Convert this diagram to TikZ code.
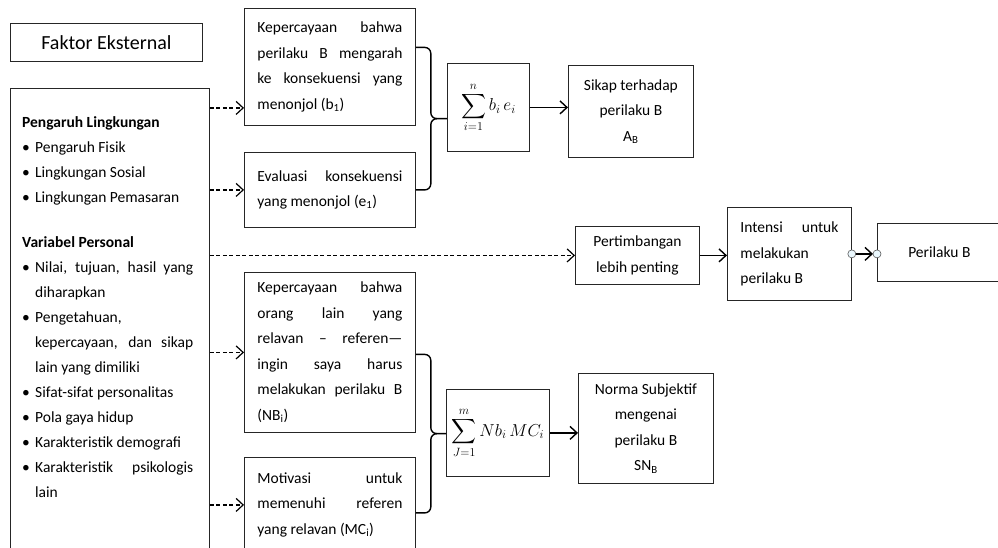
\documentclass[tikz,border=0pt]{standalone}
\usepackage{fontspec}
\setmainfont{Carlito}
\usepackage{amsmath}
\usetikzlibrary{positioning}
\usetikzlibrary{arrows.meta}
\usetikzlibrary{calc}

\setlength{\parindent}{0pt}
\hyphenpenalty=10000
\exhyphenpenalty=10000

\newcommand{\teks}{\fontsize{15.5}{25.5}\selectfont}
\newcommand{\butir}[1]{\par\hangindent=13pt\hangafter=1\noindent\makebox[13pt][l]{\textbullet}#1}

\tikzset{
  kotak/.style={draw=black!85, line width=0.8pt, inner xsep=13pt, inner ysep=4pt,
    font=\teks, anchor=north west},
  isi/.style={kotak, text width=145pt, align=justify, minimum height=#1},
  tengah/.style={kotak, align=center, inner xsep=2pt},
  panah/.style={-{Straight Barb[length=7pt,width=13pt]}, line width=1.4pt},
  putus/.style={panah, dash pattern=on 4pt off 2.5pt, line width=1.2pt},
  kurawal/.style={line width=1.4pt, rounded corners=6pt},
  titik/.style={draw=gray!70!black, fill=cyan!8, line width=0.6pt},
}

\begin{document}
\begin{tikzpicture}[x=1pt, y=-1pt]

  \useasboundingbox (0,0) rectangle (998,547);

  % Faktor eksternal (left column)
  \node[kotak, minimum width=192, minimum height=38,
        font=\fontsize{20}{24}\selectfont] (faktor) at (10,23) {Faktor Eksternal};
  \node[kotak, minimum width=199, minimum height=480] (kiri) at (10,88) {};
  \node[anchor=north west, inner sep=0pt, text width=171pt, align=justify,
        font=\fontsize{15.5}{25}\selectfont] (daftar) at (22,116) {%
    \textbf{Pengaruh Lingkungan}
    \butir{Pengaruh Fisik}
    \butir{Lingkungan Sosial}
    \butir{Lingkungan Pemasaran}
    \par\vspace{20pt}
    \noindent\textbf{Variabel Personal}
    \butir{Nilai, tujuan, hasil yang\linebreak diharapkan}
    \butir{Pengetahuan,\newline kepercayaan, dan sikap\linebreak lain yang dimiliki}
    \butir{Sifat-sifat personalitas}
    \butir{Pola gaya hidup}
    \butir{Karakteristik demografi}
    \butir{Karakteristik psikologis\linebreak lain}\par};

  % Keyakinan dan evaluasi
  \node[isi=117] (kep1) at (244,8)
    {Kepercayaan bahwa\linebreak perilaku B mengarah\linebreak ke konsekuensi yang\linebreak menonjol (b\textsubscript{1})};
  \node[isi=75] (eval) at (244,152)
    {Evaluasi konsekuensi\linebreak yang menonjol (e\textsubscript{1})};
  \node[isi=160] (kep2) at (244,272)
    {Kepercayaan bahwa\linebreak orang lain yang\linebreak relavan – referen—\linebreak ingin saya harus\linebreak melakukan perilaku B\linebreak (NB\textsubscript{i})};
  \node[isi=95] (mot) at (244,457)
    {Motivasi untuk\linebreak memenuhi referen\linebreak yang relavan (MC\textsubscript{i})};

  % Penjumlahan
  \node[kotak, minimum width=82, minimum height=88, inner xsep=2pt,
        font=\fontsize{17}{20}\selectfont] (jum1) at (447,63)
    {$\displaystyle\sum_{i=1}^{n} b_i\, e_i$};
  \node[kotak, minimum width=103, minimum height=87, inner xsep=2pt,
        font=\fontsize{17}{20}\selectfont] (jum2) at (446,389)
    {$\displaystyle\sum_{J=1}^{m} Nb_i\, MC_i$};

  % Sikap, norma, intensi, perilaku
  \node[tengah, minimum width=125, minimum height=92] (sikap) at (568,65)
    {Sikap terhadap\\ perilaku B\\ A\textsubscript{B}};
  \node[tengah, minimum width=135, minimum height=110] (norma) at (578,373)
    {Norma Subjektif\\ mengenai\\ perilaku B\\ SN\textsubscript{B}};
  \node[tengah, minimum width=124, minimum height=58] (pert) at (575,226)
    {Pertimbangan\\ lebih penting};
  \node[isi=93, text width=98pt] (intensi) at (727,207)
    {Intensi untuk\linebreak melakukan\newline perilaku B};
  \node[tengah, minimum width=124, minimum height=58] (perilaku) at (877,223)
    {Perilaku B};

  % Kurung kurawal
  \coordinate (ka1) at ([yshift=19.5pt]kep1.east);
  \coordinate (kb1) at (eval.east);
  \coordinate (km1) at ($(ka1)!0.5!(kb1)$);
  \draw[kurawal] (ka1) -| ([xshift=15pt]km1) -- (km1 -| jum1.west);
  \draw[kurawal] (kb1) -| ([xshift=15pt]km1) -- ([xshift=20pt]km1);

  \coordinate (ka2) at ([yshift=-2pt]kep2.east);
  \coordinate (kb2) at ([yshift=-8pt]mot.east);
  \coordinate (km2) at ($(ka2)!0.5!(kb2)$);
  \draw[kurawal] (ka2) -| ([xshift=15pt]km2) -- (km2 -| jum2.west);
  \draw[kurawal] (kb2) -| ([xshift=15pt]km2) -- ([xshift=20pt]km2);

  % Panah putus-putus dari faktor eksternal
  \coordinate (p1) at ([yshift=-41pt]kep1.west);
  \draw[putus] (p1 -| kiri.east) -- (p1);
  \draw[putus] (eval.west -| kiri.east) -- (eval.west);
  \draw[putus] (kep2.west -| kiri.east) -- (kep2.west);
  \draw[putus] (mot.west -| kiri.east) -- (mot.west);
  \draw[putus] (pert.west -| kiri.east) -- (pert.west);

  % Panah utuh
  \draw[panah] (jum1.east) -- (jum1.east -| sikap.west);
  \draw[panah] (jum2.east) -- (jum2.east -| norma.west);
  \draw[panah] (pert.east) -- (pert.east -| intensi.west);
  \draw[panah, shorten >=4pt] (intensi.east) -- (intensi.east -| perilaku.west);
  \draw[titik] (intensi.east) circle (4pt);
  \draw[titik] (intensi.east -| perilaku.west) circle (4pt);

\end{tikzpicture}
\end{document}
